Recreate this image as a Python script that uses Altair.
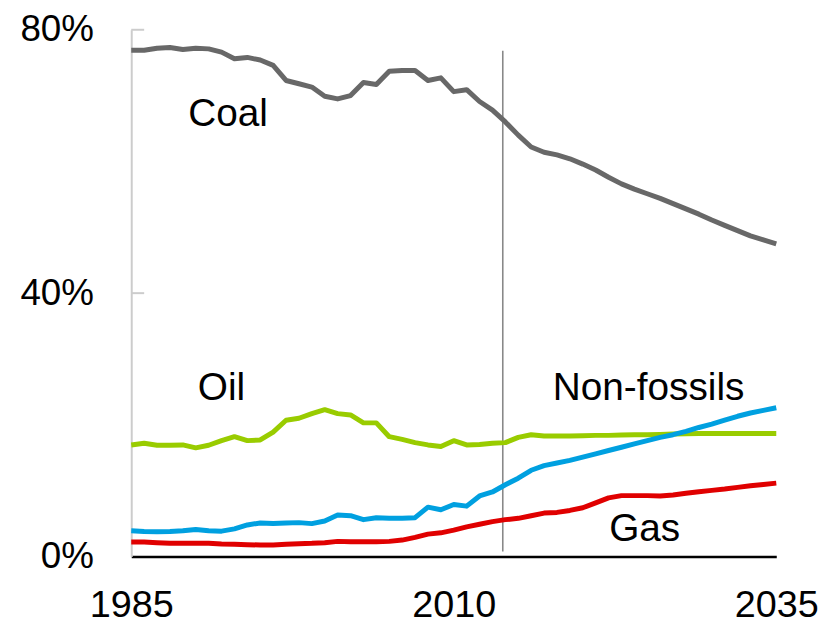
import altair as alt
import pandas as pd

years = list(range(1985, 2036))

coal = [76.9, 76.9, 77.2, 77.3, 77.0, 77.2, 77.1, 76.6, 75.6, 75.8,
        75.4, 74.6, 72.3, 71.8, 71.3, 69.9, 69.5, 70.0, 72.0, 71.7,
        73.7, 73.8, 73.8, 72.3, 72.7, 70.6, 70.9, 69.1, 67.8, 66.0,
        64.0, 62.2, 61.4, 61.0, 60.4, 59.6, 58.7, 57.6, 56.6, 55.8,
        55.1, 54.4, 53.6, 52.8, 52.0, 51.1, 50.3, 49.5, 48.7, 48.1, 47.5]

oil = [16.95, 17.2, 16.9, 16.9, 16.95, 16.5, 16.9, 17.6, 18.2, 17.6,
       17.7, 18.9, 20.7, 21.0, 21.7, 22.3, 21.7, 21.5, 20.3, 20.3,
       18.2, 17.8, 17.3, 16.95, 16.7, 17.6, 16.95, 17.0, 17.2, 17.3,
       18.1, 18.5, 18.3, 18.3, 18.3, 18.35, 18.4, 18.4, 18.45, 18.5,
       18.5, 18.55, 18.6, 18.65, 18.7, 18.7, 18.7, 18.7, 18.7, 18.7, 18.7]

nonfossil = [3.9, 3.8, 3.75, 3.8, 3.9, 4.1, 3.9, 3.85, 4.2, 4.8,
             5.1, 5.0, 5.1, 5.15, 5.0, 5.4, 6.3, 6.2, 5.6, 5.9,
             5.8, 5.8, 5.9, 7.5, 7.1, 7.9, 7.65, 9.2, 9.8, 10.9,
             11.9, 13.1, 13.8, 14.2, 14.6, 15.1, 15.6, 16.1, 16.6, 17.1,
             17.6, 18.1, 18.5, 19.0, 19.6, 20.1, 20.7, 21.3, 21.8, 22.2, 22.6]

gas = [2.2, 2.2, 2.1, 2.0, 2.0, 2.0, 2.0, 1.9, 1.85, 1.8,
       1.75, 1.75, 1.85, 1.95, 2.0, 2.1, 2.3, 2.25, 2.25, 2.25,
       2.3, 2.5, 2.9, 3.4, 3.6, 4.0, 4.5, 4.9, 5.3, 5.6,
       5.8, 6.2, 6.6, 6.7, 7.0, 7.4, 8.15, 8.9, 9.25, 9.25,
       9.25, 9.2, 9.35, 9.6, 9.85, 10.05, 10.25, 10.5, 10.75, 10.95, 11.15]

series_names = ["Coal", "Oil", "Non-fossils", "Gas"]
series_colors = ["#686868", "#99cc00", "#00a0e0", "#e00000"]

label_text = ["Coal", "Oil", "Non-fossils", "Gas"]
label_x = [1992.5, 1992.0, 2025.1, 2024.8]
label_y = [65.4, 23.8, 23.8, 2.4]

divider_year = [2013.8]
divider_top = [76.8]
divider_bottom = [0.75]

ytick_values = [40, 80]

rows = []
for name, vals in zip(series_names, [coal, oil, nonfossil, gas]):
    for yr, v in zip(years, vals):
        rows.append({"year": yr, "share": v, "series": name})
df = pd.DataFrame(rows)

FONT = "Liberation Sans, Arial, sans-serif"

xscale = alt.Scale(domain=[1985, 2035], nice=False, zero=False)
yscale = alt.Scale(domain=[0, 80], nice=False)

base_x_axis = alt.Axis(values=[1985, 2010, 2035], format="d", title=None,
                       ticks=False, tickSize=0, grid=False,
                       domainColor="#000000", domainWidth=2.5,
                       labelFont=FONT, labelFontSize=38, labelColor="#000000",
                       labelPadding=30, labelFlush=False)
base_y_axis = alt.Axis(values=[0, 40, 80], title=None, ticks=False, tickSize=0,
                       grid=False, domainColor="#cccccc", domainWidth=2,
                       labelExpr="datum.value + '%'",
                       labelFont=FONT, labelFontSize=37, labelColor="#000000",
                       labelPadding=38, labelBaseline="middle")

ytick_df = pd.DataFrame({"v": ytick_values})
yticks = alt.Chart(ytick_df).mark_rule(color="#cccccc", strokeWidth=2).encode(
    y=alt.Y("v:Q", scale=yscale, axis=base_y_axis),
    x=alt.value(0), x2=alt.value(13),
)

div_df = pd.DataFrame({"x": divider_year, "y": divider_top, "y2": divider_bottom})
divider = alt.Chart(div_df).mark_rule(color="#888888", strokeWidth=1.6).encode(
    x=alt.X("x:Q", scale=xscale, axis=base_x_axis),
    y=alt.Y("y:Q", scale=yscale),
    y2="y2:Q",
)

lines = alt.Chart(df).mark_line(strokeWidth=5, strokeJoin="round", strokeCap="butt").encode(
    x=alt.X("year:Q", scale=xscale),
    y=alt.Y("share:Q", scale=yscale),
    color=alt.Color("series:N", scale=alt.Scale(domain=series_names, range=series_colors), legend=None),
    detail="series:N",
)

lab_df = pd.DataFrame({"text": label_text, "x": label_x, "y": label_y})
labels = alt.Chart(lab_df).mark_text(font=FONT, fontSize=39, color="#000000",
                                     align="center", baseline="alphabetic").encode(
    x=alt.X("x:Q", scale=xscale),
    y=alt.Y("y:Q", scale=yscale),
    text="text:N",
)

chart = alt.layer(yticks, divider, lines, labels).properties(
    width=649, height=530,
    background="#ffffff",
    autosize=alt.AutoSizeParams(type="none"),
    padding={"left": 124, "top": 20, "right": 44, "bottom": 68},
).configure_view(stroke=None, strokeWidth=0)

chart.save("out.html", embed_options={"renderer": "svg", "actions": False})
